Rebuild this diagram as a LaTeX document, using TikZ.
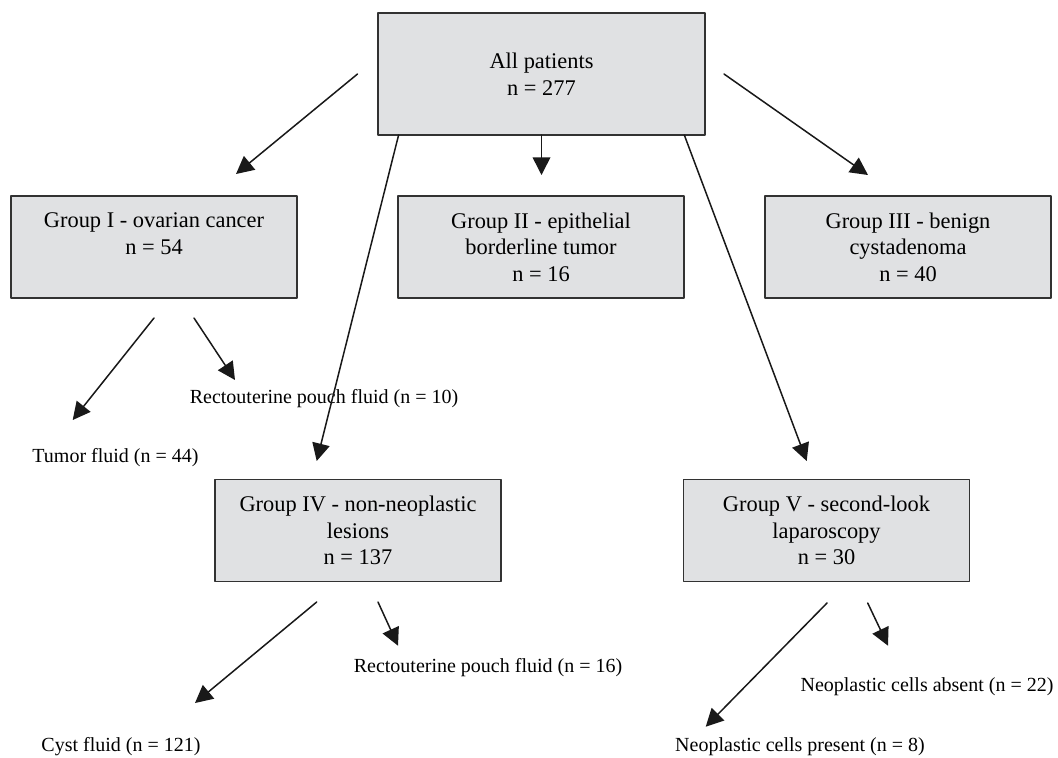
\documentclass[tikz,border=0pt]{standalone}
\usepackage{fontspec}
\setmainfont{Liberation Serif}
\usetikzlibrary{arrows.meta}
\definecolor{boxgray}{RGB}{224,225,227}
\definecolor{edgegray}{RGB}{50,50,50}
\tikzset{
  group/.style={draw=edgegray,line width=0.9pt,fill=boxgray,minimum width=143pt,minimum height=51pt,inner sep=0pt,align=center,font=\fontsize{11.2}{13.3}\selectfont},
  leaf/.style={inner sep=0pt,font=\fontsize{10}{12}\selectfont},
  arr/.style={-{Triangle[length=8.8pt,width=8.8pt]},line width=0.75pt,draw=black!90,fill=black!90}
}
\begin{document}
\begin{tikzpicture}[x=0.5pt,y=-0.5pt,line cap=round,line join=round]
\useasboundingbox (0,0) rectangle (1058,757);
% boxes
\node[group,minimum width=163.5pt,minimum height=61pt] (all) at (541.5,74) {All patients\\n = 277};
\node[group] (g1) at (154,247) {Group I - ovarian cancer\\n = 54\\\mbox{}};
\node[group] (g2) at (541,247) {Group II - epithelial\\borderline tumor\\n = 16};
\node[group] (g3) at (908,247) {Group III - benign\\cystadenoma\\n = 40};
\node[group] (g4) at (358,530.5) {Group IV - non-neoplastic\\lesions\\n = 137};
\node[group] (g5) at (826.5,530.5) {Group V - second-look\\laparoscopy\\n = 30};
% outcomes
\node[leaf] (tumor) at (115.5,458) {Tumor fluid (n = 44)};
\node[leaf] (pouchA) at (324,399) {Rectouterine pouch fluid (n = 10)};
\node[leaf] (cyst) at (121,747) {Cyst fluid (n = 121)};
\node[leaf] (pouchB) at (488,668) {Rectouterine pouch fluid (n = 16)};
\node[leaf] (present) at (800,747) {Neoplastic cells present (n = 8)};
\node[leaf] (absent) at (927,687) {Neoplastic cells absent (n = 22)};
% arrow ends
\path (357.5,74)coordinate(a1) (236,174)coordinate(b1)
  (541.5,135)coordinate(a2) (541.5,175)coordinate(b2)
  (724,74)coordinate(a3) (868,175)coordinate(b3)
  (398.6,135)coordinate(a4) (316.7,461)coordinate(b4)
  (684.3,135)coordinate(a5) (806.7,461)coordinate(b5)
  (154,318)coordinate(c1) (72.7,420)coordinate(d1)
  (194,318)coordinate(c2) (235,380)coordinate(d2)
  (316.7,602)coordinate(e1) (195,703)coordinate(f1)
  (378,602)coordinate(e2) (398,645.7)coordinate(f2)
  (827,603)coordinate(h1) (705.7,726.7)coordinate(k1)
  (867.7,603)coordinate(h2) (888,645.7)coordinate(k2);
\draw[arr] (a1)--(b1);
\draw[arr] (a2)--(b2);
\draw[arr] (a3)--(b3);
\draw[arr] (a4)--(b4);
\draw[arr] (a5)--(b5);
\draw[arr] (c1)--(d1);
\draw[arr] (c2)--(d2);
\draw[arr] (e1)--(f1);
\draw[arr] (e2)--(f2);
\draw[arr] (h1)--(k1);
\draw[arr] (h2)--(k2);
\end{tikzpicture}
\end{document}
